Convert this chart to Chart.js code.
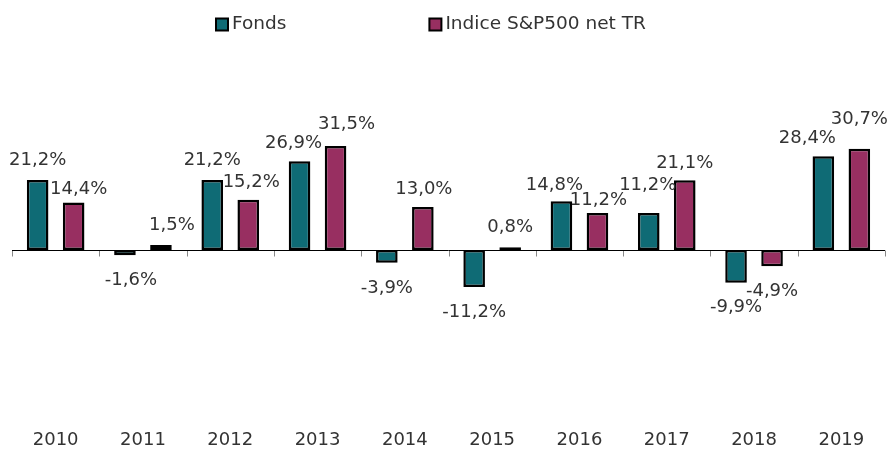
<!DOCTYPE html>
<html>
<head>
<meta charset="utf-8">
<script src="https://cdn.jsdelivr.net/npm/chart.js@4/dist/chart.umd.min.js"></script>
<style>
  body { margin: 0; background: #fff; }
</style>
</head>
<body>
<canvas id="graficoRendimientos" width="887" height="450"></canvas>
<script>
// datos
const annees = ["2010", "2011", "2012", "2013", "2014", "2015", "2016", "2017", "2018", "2019"];
const fonds = [21.2, -1.6, 21.2, 26.9, -3.9, -11.2, 14.8, 11.2, -9.9, 28.4];
const indice = [14.4, 1.5, 15.2, 31.5, 13.0, 0.8, 11.2, 21.1, -4.9, 30.7];
const nomsSeries = ["Fonds", "Indice S&P500 net TR"];

// ajustes finos de las etiquetas [dx, dy] para evitar choques (como en el original)
const ajusteFonds = [[0, 0], [6, 0], [0, 0], [-6, 2], [0, 0], [0, 0], [-7, 4], [-1, -8], [0, 0], [-16, 2]];
const ajusteIndice = [[5, 7], [11, 0], [3, 2], [11, -2], [1, 2], [0, 0], [1, 7], [0, 3], [0, 0], [0, -9]];

const FUENTE = '"DejaVu Sans", Verdana, sans-serif';
const TAM = 18;
const colorTexto = "#333333";

const formatoPct = v => v.toFixed(1).replace(".", ",") + "%";

// linea del cero con sus marcas
const pluginEjeCero = {
    id: "ejeCero",
    afterDatasetsDraw(chart) {
        const { ctx, chartArea, scales } = chart;
        const y0 = Math.round(scales.y.getPixelForValue(0)) + 0.5;
        const ancho = (chartArea.right - chartArea.left) / annees.length;
        ctx.save();
        ctx.strokeStyle = "#888888";
        ctx.lineWidth = 1;
        for (let i = 0; i <= annees.length; i++) {
            const x = Math.round(chartArea.left + ancho * i) + 0.5;
            ctx.beginPath();
            ctx.moveTo(x, y0);
            ctx.lineTo(x, y0 + 6);
            ctx.stroke();
        }
        ctx.strokeStyle = "#000000";
        ctx.beginPath();
        ctx.moveTo(chartArea.left, y0);
        ctx.lineTo(chartArea.right, y0);
        ctx.stroke();
        ctx.restore();
    }
};

// etiquetas de valores
const pluginEtiquetas = {
    id: "etiquetas",
    afterDatasetsDraw(chart) {
        const { ctx } = chart;
        const ajustes = [ajusteFonds, ajusteIndice];
        ctx.save();
        ctx.font = TAM + "px " + FUENTE;
        ctx.fillStyle = colorTexto;
        ctx.textAlign = "center";
        ctx.textBaseline = "middle";
        chart.data.datasets.forEach((ds, d) => {
            chart.getDatasetMeta(d).data.forEach((barra, i) => {
                const v = ds.data[i];
                const [dx, dy] = ajustes[d][i];
                const y = v >= 0 ? barra.y - 20 : barra.y + 25;
                ctx.fillText(formatoPct(v), barra.x + dx, y + dy);
            });
        });
        ctx.restore();
    }
};

// leyenda arriba
const pluginLeyenda = {
    id: "leyenda",
    afterDraw(chart) {
        const { ctx, width } = chart;
        ctx.save();
        ctx.font = "18.5px " + FUENTE;
        ctx.textBaseline = "middle";
        const caja = 12, sep = 4, hueco = 143;
        const anchos = nomsSeries.map(n => caja + sep + ctx.measureText(n).width);
        const total = anchos.reduce((a, b) => a + b, 0) + hueco * (anchos.length - 1);
        let x = Math.round((width - total) / 2 - 13);
        const yc = 24.5;
        chart.data.datasets.forEach((ds, d) => {
            ctx.fillStyle = ds.backgroundColor;
            ctx.fillRect(x, yc - caja / 2, caja, caja);
            ctx.strokeStyle = "#000";
            ctx.lineWidth = 2;
            ctx.strokeRect(x, yc - caja / 2, caja, caja);
            ctx.fillStyle = colorTexto;
            ctx.fillText(nomsSeries[d], x + caja + sep, yc);
            x += anchos[d] + hueco;
        });
        ctx.restore();
    }
};

new Chart(document.getElementById("graficoRendimientos"), {
    type: "bar",
    data: {
        labels: annees,
        datasets: [
            {
                label: nomsSeries[0],
                data: fonds,
                backgroundColor: "#0f6b75",
                borderColor: "#000000",
                borderWidth: 2.5,
                borderSkipped: false,
                categoryPercentage: 0.825,
                barPercentage: 0.6
            },
            {
                label: nomsSeries[1],
                data: indice,
                backgroundColor: "#982f61",
                borderColor: "#000000",
                borderWidth: 2.5,
                borderSkipped: false,
                categoryPercentage: 0.825,
                barPercentage: 0.6
            }
        ]
    },
    options: {
        responsive: false,
        animation: false,
        layout: { padding: { left: 12, right: 2, top: 118, bottom: 0 } },
        plugins: {
            legend: { display: false },
            tooltip: { enabled: false }
        },
        scales: {
            x: {
                grid: { display: false, drawTicks: false },
                border: { display: false },
                ticks: {
                    padding: 15,
                    color: colorTexto,
                    font: { family: FUENTE, size: TAM },
                    maxRotation: 0
                },
                afterFit(escala) { escala.height = 35; }
            },
            y: {
                display: false,
                min: -50,
                max: 40
            }
        }
    },
    plugins: [pluginEjeCero, pluginEtiquetas, pluginLeyenda]
});
</script>
</body>
</html>
